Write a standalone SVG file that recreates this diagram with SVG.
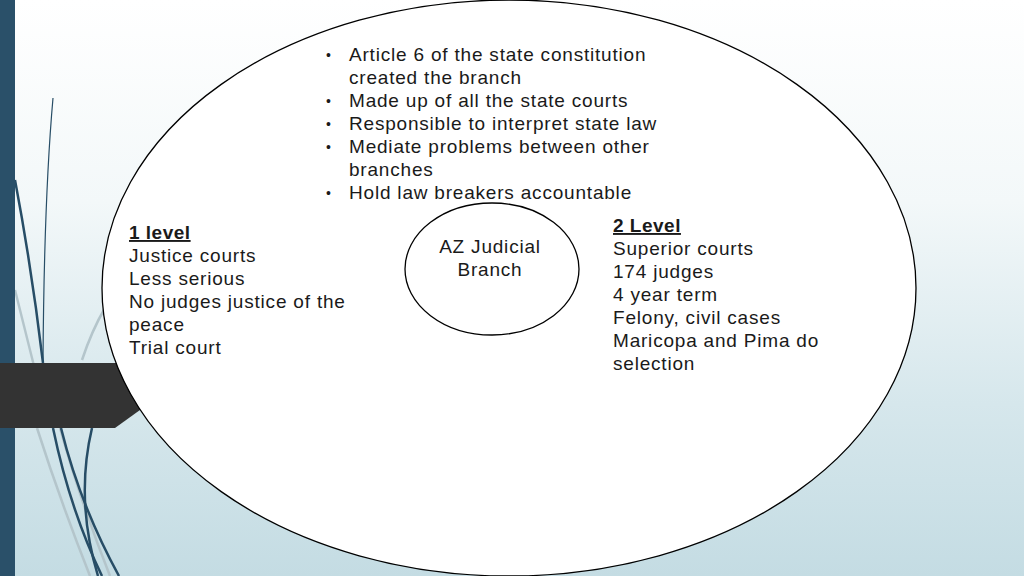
<svg xmlns="http://www.w3.org/2000/svg" width="1024" height="576" viewBox="0 0 1024 576">
<defs>
<linearGradient id="bg" x1="0" y1="0" x2="0" y2="1">
<stop offset="0" stop-color="#ffffff"/>
<stop offset="0.35" stop-color="#f3f8f9"/>
<stop offset="0.7" stop-color="#d6e7ec"/>
<stop offset="1" stop-color="#c4dce3"/>
</linearGradient>
<style>
.t{font-family:"Liberation Sans",Arial,sans-serif;font-size:19px;letter-spacing:0.8px;fill:#1a1a1a}
.bl{font-family:"Liberation Sans",Arial,sans-serif;font-size:14px;fill:#1a1a1a}
.b{font-weight:bold;text-decoration:underline;letter-spacing:0.5px}
.dk{fill:none;stroke:#274d66;stroke-width:2.5}
.lt{fill:none;stroke:#b4c5cb;stroke-width:2.5}
.shape{fill:#ffffff;stroke:#000000;stroke-width:1.3}
</style>
</defs>
<rect width="1024" height="576" fill="url(#bg)"/>
<g id="decor">
<path class="lt" d="M15,290 Q25,330 35,370"/>
<path class="lt" d="M82,360 Q92,330 105,308" stroke-width="1.5"/>
<path class="lt" d="M37,428 Q60,500 90,576"/>
<path class="lt" d="M60,428 Q80,500 110,576"/>
<path class="dk" d="M15,180 Q32,270 43,363" stroke-width="2"/>
<path fill="none" stroke="#274d66" stroke-width="1.2" d="M53,98 Q44,200 43,363"/>
<path class="dk" d="M53,428 Q70,510 102,576"/>
<path class="dk" d="M61,428 Q80,505 119,576"/>
<path class="dk" d="M92,428 Q75,500 98,576"/>
<rect x="0" y="0" width="15" height="576" fill="#2a5069"/>
<path d="M0,363 L140,363 L140,410 L115,428 L0,428 Z" fill="#333333"/>
</g>
<g id="outer">
<ellipse class="shape" cx="509" cy="288" rx="407" ry="288"/>
<text class="bl" x="326" y="60">•</text>
<text class="t" x="349" y="61">Article 6 of the state constitution</text>
<text class="t" x="349" y="84">created the branch</text>
<text class="bl" x="326" y="106">•</text>
<text class="t" x="349" y="107">Made up of all the state courts</text>
<text class="bl" x="326" y="129">•</text>
<text class="t" x="349" y="130">Responsible to interpret state law</text>
<text class="bl" x="326" y="152">•</text>
<text class="t" x="349" y="153">Mediate problems between other</text>
<text class="t" x="349" y="176">branches</text>
<text class="bl" x="326" y="198">•</text>
<text class="t" x="349" y="199">Hold law breakers accountable</text>
</g>
<g id="level1">
<text class="t b" x="129" y="239">1 level</text>
<text class="t" x="129" y="262">Justice courts</text>
<text class="t" x="129" y="285">Less serious</text>
<text class="t" x="129" y="308">No judges justice of the</text>
<text class="t" x="129" y="331">peace</text>
<text class="t" x="129" y="354">Trial court</text>
</g>
<g id="level2">
<text class="t b" x="613" y="232">2 Level</text>
<text class="t" x="613" y="255">Superior courts</text>
<text class="t" x="613" y="278">174 judges</text>
<text class="t" x="613" y="301">4 year term</text>
<text class="t" x="613" y="324">Felony, civil cases</text>
<text class="t" x="613" y="347">Maricopa and Pima do</text>
<text class="t" x="613" y="370">selection</text>
</g>
<g id="center">
<ellipse class="shape" cx="492" cy="269" rx="87" ry="66" fill="none"/>
<text class="t" x="490" y="253" text-anchor="middle">AZ Judicial</text>
<text class="t" x="490" y="276" text-anchor="middle">Branch</text>
</g>
<g id="connectors"/>
</svg>
